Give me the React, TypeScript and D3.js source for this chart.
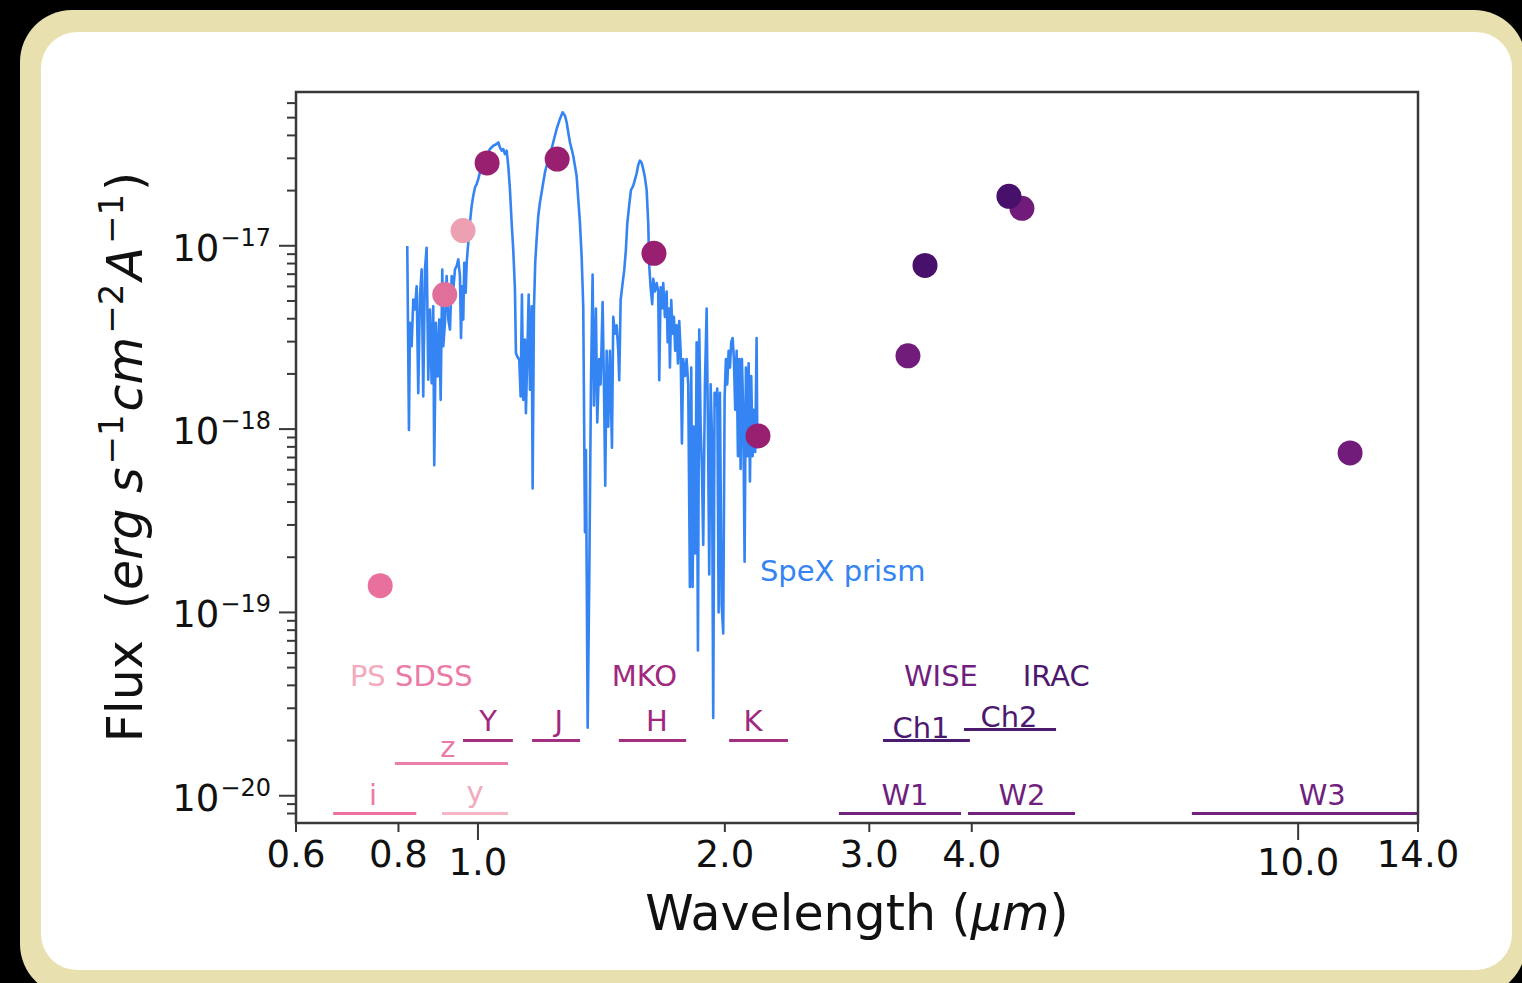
import React from 'react';
import * as d3 from 'd3';

const WIDTH = 1522;
const HEIGHT = 983;
const FONT = '"DejaVu Sans", "Liberation Sans", sans-serif';

// SpeX prism spectrum: wavelength (µm) and flux in units of 1e-18 erg s^-1 cm^-2 Å^-1
const FLUX_UNIT = 1e-18;
const specWave = [
  0.8200, 0.8239, 0.8262, 0.8302, 0.8339, 0.8379, 0.8419, 0.8457, 0.8497, 0.8538,
  0.8576, 0.8617, 0.8658, 0.8698, 0.8739, 0.8781, 0.8820, 0.8845, 0.8887, 0.8931,
  0.8971, 0.9006, 0.9047, 0.9072, 0.9115, 0.9159, 0.9201, 0.9244, 0.9289, 0.9330,
  0.9375, 0.9420, 0.9463, 0.9507, 0.9535, 0.9569, 0.9596, 0.9623, 0.9661, 0.9688,
  0.9732, 0.9777, 0.9825, 0.9869, 0.9916, 0.9963, 1.0008, 1.0056, 1.0149, 1.0247,
  1.0342, 1.0439, 1.0539, 1.0587, 1.0637, 1.0688, 1.0736, 1.0787, 1.0839, 1.0888,
  1.0939, 1.0992, 1.1041, 1.1094, 1.1125, 1.1166, 1.1229, 1.1273, 1.1314, 1.1355,
  1.1410, 1.1441, 1.1485, 1.1530, 1.1572, 1.1627, 1.1659, 1.1702, 1.1744, 1.1790,
  1.1844, 1.1900, 1.1957, 1.2011, 1.2069, 1.2126, 1.2239, 1.2353, 1.2472, 1.2588,
  1.2683, 1.2766, 1.2827, 1.2885, 1.2946, 1.3008, 1.3066, 1.3129, 1.3191, 1.3252,
  1.3315, 1.3378, 1.3439, 1.3504, 1.3541, 1.3607, 1.3668, 1.3733, 1.3797, 1.3849,
  1.3926, 1.3978, 1.4056, 1.4111, 1.4190, 1.4243, 1.4295, 1.4352, 1.4417, 1.4485,
  1.4567, 1.4620, 1.4690, 1.4760, 1.4827, 1.4868, 1.4927, 1.5010, 1.5077, 1.5150,
  1.5206, 1.5281, 1.5364, 1.5463, 1.5538, 1.5613, 1.5683, 1.5758, 1.5833, 1.5904,
  1.5981, 1.6058, 1.6130, 1.6175, 1.6238, 1.6311, 1.6357, 1.6435, 1.6514, 1.6588,
  1.6635, 1.6700, 1.6761, 1.6822, 1.6903, 1.6984, 1.7032, 1.7094, 1.7142, 1.7205,
  1.7272, 1.7335, 1.7398, 1.7466, 1.7532, 1.7596, 1.7665, 1.7729, 1.7793, 1.7880,
  1.7963, 1.8046, 1.8131, 1.8198, 1.8270, 1.8337, 1.8404, 1.8476, 1.8544, 1.8612,
  1.8686, 1.8753, 1.8821, 1.8912, 1.9003, 1.9072, 1.9142, 1.9217, 1.9287, 1.9357,
  1.9432, 1.9505, 1.9576, 1.9653, 1.9725, 1.9819, 1.9908, 1.9987, 2.0059, 2.0134,
  2.0213, 2.0287, 2.0361, 2.0441, 2.0515, 2.0590, 2.0671, 2.0748, 2.0824, 2.0905,
  2.0981, 2.1058, 2.1140, 2.1218, 2.1297, 2.1381, 2.1459, 2.1537, 2.1621, 2.1700,
  2.1779, 2.1864, 2.1903,
];
const specFlux = [
  9.96, 0.989, 3.80, 2.83, 5.09, 4.49, 6.02, 1.571, 5.31, 7.43,
  1.505, 7.43, 9.76, 1.857, 4.49, 1.782, 4.68, 0.636, 3.80, 1.936,
  3.96, 1.444, 7.43, 2.83, 3.80, 6.83, 3.96, 3.49, 6.83, 5.77,
  7.43, 7.75, 8.43, 6.83, 3.14, 6.02, 3.96, 8.08, 5.54, 8.08,
  10.40, 13.38, 16.50, 18.71, 20.80, 21.68, 23.09, 25.13, 28.50, 30.97,
  33.71, 35.14, 35.90, 36.68, 34.44, 33.00, 33.71, 31.64, 33.00, 27.31,
  20.36, 13.38, 9.56, 5.77, 2.60, 2.49, 2.39, 1.505, 5.42, 1.444,
  3.08, 1.221, 2.49, 5.42, 1.638, 4.68, 0.4745, 4.49, 8.08, 10.84,
  14.54, 17.22, 19.53, 22.16, 25.13, 27.31, 30.97, 36.68, 43.37, 49.19,
  53.52, 51.28, 47.18, 41.60, 36.68, 33.71, 30.97, 27.31, 24.07, 17.95,
  13.38, 8.78, 4.68, 0.2736, 0.769, 0.0235, 0.1532, 1.744, 6.975, 1.346,
  4.55, 1.087, 2.408, 1.753, 4.93, 1.753, 0.491, 2.677, 1.031, 2.677,
  0.7915, 4.094, 3.312, 3.682, 2.677, 1.848, 5.065, 6.259, 7.337, 9.569,
  13.15, 16.27, 20.11, 21.20, 22.95, 24.84, 27.62, 29.15, 28.36, 26.19,
  23.56, 20.11, 13.15, 7.735, 5.936, 4.803, 6.599, 5.630, 6.259, 5.630,
  1.848, 5.936, 4.55, 6.259, 4.094, 5.630, 2.979, 4.55, 2.166, 5.065,
  3.312, 4.094, 2.677, 3.682, 2.284, 3.882, 2.677, 0.8345, 2.408, 1.948,
  2.408, 1.753, 0.1375, 2.166, 0.1375, 1.031, 0.2099, 2.979, 0.0620, 3.493,
  1.031, 0.6066, 0.2337, 1.753, 4.55, 1.031, 0.1611, 1.753, 0.9277, 0.02654,
  1.577, 1.344, 1.662, 0.0999, 1.577, 0.1111, 0.0767, 1.496, 2.408, 1.753,
  2.677, 2.166, 2.979, 3.141, 2.408, 1.275, 2.677, 0.7111, 2.408, 0.6066,
  2.408, 1.275, 0.1889, 2.166, 0.7111, 2.284, 0.5176, 1.948, 0.7111, 1.275,
  0.7497, 3.141, 0.989,
];

// Photometry (IRAC listed last so it sits above WISE)
const photBand = ['i', 'z', 'y', 'Y', 'J', 'H', 'K', 'W1', 'W2', 'W3', 'Ch1', 'Ch2'];
const photSystem = ['SDSS', 'SDSS', 'PS', 'MKO', 'MKO', 'MKO', 'MKO', 'WISE', 'WISE', 'WISE', 'IRAC', 'IRAC'];
const photWave = [0.760, 0.911, 0.959, 1.026, 1.249, 1.639, 2.195, 3.344, 4.605, 11.57, 3.508, 4.44];
const photFlux = [1.40e-19, 5.42e-18, 1.21e-17, 2.83e-17, 2.97e-17, 9.09e-18, 9.18e-19, 2.51e-18, 1.60e-17, 7.41e-19, 7.81e-18, 1.86e-17];

// Filter bandpasses (µm) drawn as horizontal bars at a fixed flux level
const bandName = ['i', 'y', 'z', 'Y', 'J', 'H', 'K', 'Ch1', 'Ch2', 'W1', 'W2', 'W3'];
const bandSystem = ['SDSS', 'PS', 'SDSS', 'MKO', 'MKO', 'MKO', 'MKO', 'IRAC', 'IRAC', 'WISE', 'WISE', 'WISE'];
const bandLo = [0.666, 0.904, 0.792, 0.959, 1.164, 1.485, 2.024, 3.118, 3.913, 2.755, 3.958, 7.42];
const bandHi = [0.841, 1.088, 1.088, 1.103, 1.332, 1.794, 2.388, 3.979, 5.068, 3.881, 5.345, 14.0];
const bandLevel = [8e-21, 8e-21, 1.5e-20, 2e-20, 2e-20, 2e-20, 2e-20, 2e-20, 2.3e-20, 8e-21, 8e-21, 8e-21];
const bandLabelWave = [0.745, 0.992, 0.919, 1.029, 1.255, 1.653, 2.165, 3.469, 4.441, 3.316, 4.606, 10.7];

// Survey names
const surveyText = ['MKO', 'WISE', 'IRAC'];
const surveyWave = [1.596, 3.668, 5.07];
const surveyFlux = 3.95e-20;
const psSdssWave = 0.698;

// Axes
const X_DOMAIN = [0.6, 14];
const Y_DOMAIN = [7.1e-21, 6.9e-17];
const xTickValues = [0.6, 0.8, 1.0, 2.0, 3.0, 4.0, 10.0, 14.0];
const xMajorTicks = [1.0, 10.0];
const yMajorExponents = [-20, -19, -18, -17];

const PLOT = { left: 296, right: 1418, top: 92, bottom: 823 };

const SYSTEM_TEXT: Record<string, string> = {
  PS: '#f4a9bc',
  SDSS: '#ec7aa6',
  MKO: '#a0287e',
  WISE: '#701f7e',
  IRAC: '#4c186f',
};
const BAND_LINE: Record<string, string> = {
  i: '#ee70a3', z: '#ec7eab', y: '#f6b4c4',
  Y: '#a32f80', J: '#a32f80', H: '#a32f80', K: '#a32f80',
  W1: '#74207f', W2: '#74207f', W3: '#74207f',
  Ch1: '#4b1b6e', Ch2: '#4b1b6e',
};
const POINT_FILL: Record<string, string> = {
  i: '#e96f9c', z: '#e0709a', y: '#eda0b1',
  Y: '#991f70', J: '#991f70', H: '#991f70', K: '#991f70',
  W1: '#711c7b', W2: '#711c7b', W3: '#711c7b',
  Ch1: '#47106a', Ch2: '#47106a',
};
const LABEL_GAP: Record<string, number> = {
  i: 8, y: 11, z: 6, Y: 10, J: 10, H: 10, K: 10, Ch1: 3, Ch2: 2, W1: 8, W2: 8, W3: 8,
};
const SPEC_COLOR = '#3584f4';
const AXIS_COLOR = '#383838';

export default function App() {
  const x = d3.scaleLog().domain(X_DOMAIN).range([PLOT.left, PLOT.right]);
  const y = d3.scaleLog().domain(Y_DOMAIN).range([PLOT.bottom, PLOT.top]);

  const spectrum: [number, number][] = specWave.map((w, i) => [w, specFlux[i] * FLUX_UNIT]);
  const specPath = d3
    .line<[number, number]>()
    .x((d) => x(d[0]))
    .y((d) => y(d[1]))(spectrum) as string;

  const yTicks = y.ticks().filter((v) => v >= Y_DOMAIN[0] && v <= Y_DOMAIN[1]);
  const isMajorY = (v: number) => Math.abs(Math.log10(v) - Math.round(Math.log10(v))) < 1e-6;

  const MAJOR_LEN = 17;
  const MINOR_LEN = 9;

  return (
    <div style={{ position: 'fixed', left: 0, top: 0, width: WIDTH, height: HEIGHT, background: '#000', overflow: 'hidden' }}>
      <svg width={WIDTH} height={HEIGHT} style={{ display: 'block', fontFamily: FONT }}>
        <rect x={0} y={0} width={WIDTH} height={HEIGHT} fill="#000" />
        <rect x={20} y={10} width={1506} height={986} rx={52} ry={52} fill="#e9e0b0" />
        <rect x={41} y={32} width={1471} height={938} rx={36} ry={36} fill="#ffffff" />

        {/* spectrum */}
        <path d={specPath} fill="none" stroke={SPEC_COLOR} strokeWidth={2.6} strokeLinejoin="round" />
        <text x={x(2.207)} y={y(1.48e-19)} fontSize={29} fill={SPEC_COLOR}>SpeX prism</text>

        {/* filter bandpasses */}
        {bandName.map((b, i) => {
          const yy = y(bandLevel[i]);
          return (
            <g key={b}>
              <line x1={x(bandLo[i])} x2={x(bandHi[i])} y1={yy} y2={yy} stroke={BAND_LINE[b]} strokeWidth={3} />
              <text
                x={x(bandLabelWave[i])}
                y={yy - LABEL_GAP[b]}
                fontSize={29}
                textAnchor="middle"
                fill={SYSTEM_TEXT[bandSystem[i]]}
              >
                {b}
              </text>
            </g>
          );
        })}

        {/* survey names */}
        <text x={x(psSdssWave)} y={y(surveyFlux)} fontSize={29} style={{ whiteSpace: 'pre' }}>
          <tspan fill={SYSTEM_TEXT.PS}>PS </tspan>
          <tspan fill={SYSTEM_TEXT.SDSS}>SDSS</tspan>
        </text>
        {surveyText.map((s, i) => (
          <text key={s} x={x(surveyWave[i])} y={y(surveyFlux)} fontSize={29} textAnchor="middle" fill={SYSTEM_TEXT[s]}>
            {s}
          </text>
        ))}

        {/* photometry */}
        {photBand.map((b, i) => (
          <circle key={b + photSystem[i]} cx={x(photWave[i])} cy={y(photFlux[i])} r={12.5} fill={POINT_FILL[b]} />
        ))}

        {/* spines */}
        <rect
          x={PLOT.left}
          y={PLOT.top}
          width={PLOT.right - PLOT.left}
          height={PLOT.bottom - PLOT.top}
          fill="none"
          stroke={AXIS_COLOR}
          strokeWidth={2.5}
        />

        {/* x ticks */}
        {xTickValues.map((v) => {
          const major = xMajorTicks.includes(v);
          const xx = x(v);
          const len = major ? MAJOR_LEN : MINOR_LEN;
          return (
            <g key={'xt' + v}>
              <line x1={xx} x2={xx} y1={PLOT.bottom} y2={PLOT.bottom + len} stroke={AXIS_COLOR} strokeWidth={2} />
              <text x={xx} y={PLOT.bottom + len + 35} fontSize={37} textAnchor="middle" fill="#111">
                {v.toFixed(1)}
              </text>
            </g>
          );
        })}

        {/* y ticks */}
        {yTicks.map((v) => {
          const major = isMajorY(v);
          const yy = y(v);
          const len = major ? MAJOR_LEN : MINOR_LEN;
          return (
            <line key={'yt' + v} x1={PLOT.left - len} x2={PLOT.left} y1={yy} y2={yy} stroke={AXIS_COLOR} strokeWidth={2} />
          );
        })}
        {yMajorExponents.map((e) => {
          const yy = y(Math.pow(10, e));
          return (
            <text key={'yl' + e} x={PLOT.left - MAJOR_LEN - 8} y={yy + 15} fontSize={37} textAnchor="end" fill="#111">
              10
              <tspan fontSize={24} dx={1} dy={-15}>{'\u2212' + Math.abs(e)}</tspan>
            </text>
          );
        })}

        {/* axis titles */}
        <text x={857} y={930} fontSize={49} textAnchor="middle" fill="#111" style={{ whiteSpace: 'pre' }}>
          {'Wavelength ('}
          <tspan fontStyle="italic">{'\u03bcm'}</tspan>
          {')'}
        </text>
        <text
          transform="translate(142, 457) rotate(-90)"
          fontSize={49}
          textAnchor="middle"
          fill="#111"
          style={{ whiteSpace: 'pre' }}
        >
          <tspan>{'Flux  ('}</tspan>
          <tspan fontStyle="italic">{'erg s'}</tspan>
          <tspan fontSize={34} dx={3} dy={-19}>{'\u22121'}</tspan>
          <tspan fontStyle="italic" dx={3} dy={19}>{'cm'}</tspan>
          <tspan fontSize={34} dx={3} dy={-19}>{'\u22122'}</tspan>
          <tspan fontStyle="italic" dx={3} dy={19}>{'A'}</tspan>
          <tspan fontSize={34} dx={3} dy={-19}>{'\u22121'}</tspan>
          <tspan dx={3} dy={19}>{')'}</tspan>
        </text>
      </svg>
    </div>
  );
}
